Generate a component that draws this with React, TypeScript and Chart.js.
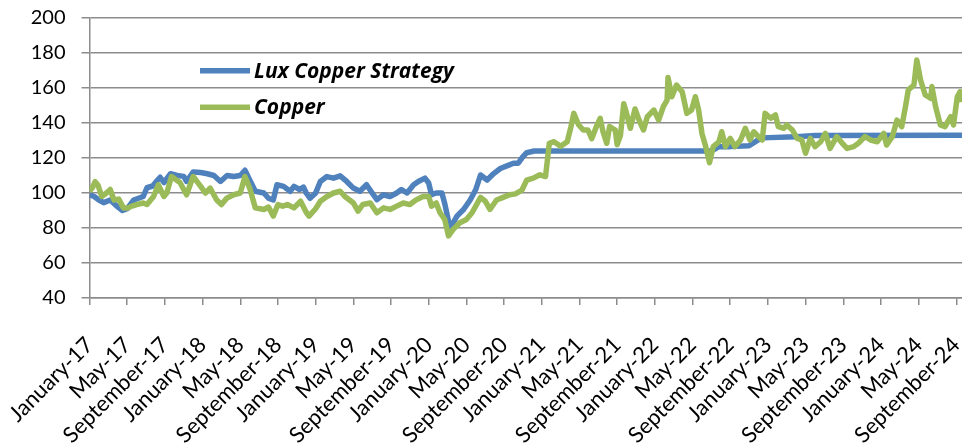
import React, { useEffect, useRef } from "react";
import { Chart, registerables } from "chart.js";

Chart.register(...registerables);

// Tick labels every 4 months, starting January 2017
const TICK_LABELS = [
  "January-17", "May-17", "September-17",
  "January-18", "May-18", "September-18",
  "January-19", "May-19", "September-19",
  "January-20", "May-20", "September-20",
  "January-21", "May-21", "September-21",
  "January-22", "May-22", "September-22",
  "January-23", "May-23", "September-23",
  "January-24", "May-24", "September-24",
];
const TICK_STEP_MONTHS = 4;
const X_MAX_MONTHS = 92.6;

const SERIES_NAMES = ["Lux Copper Strategy", "Copper"];

// x = months since January 2017
const LUX_X = [
  0, 0.5, 1, 1.5, 2.2, 2.8, 3.5, 4, 4.7, 5.7, 6.1, 6.7, 7.1, 7.5, 7.9, 8.6, 9.3, 10, 10.3, 11,
  11.8, 12.5, 13.2, 13.9, 14.6, 15.3, 16, 16.5, 17, 17.6, 18.5, 19, 19.5, 19.9, 20.6, 21.3, 21.7,
  22.3, 22.7, 23, 23.4, 24, 24.5, 25.2, 25.9, 26.6, 27.3, 28, 28.7, 29.4, 30, 30.5, 31.2, 31.9,
  32.6, 33.1, 33.7, 34.4, 34.9, 35.6, 36, 36.3, 36.8, 37.4, 37.7, 38.1, 38.3, 38.6, 39, 39.7,
  40.4, 41, 41.5, 42.2, 42.9, 43.6, 44.3, 45, 45.5, 46, 46.4, 47.2, 48.5, 66, 66.8, 68, 70,
  71.3, 75, 77, 92.6,
];
const LUX_Y = [
  99, 98, 96, 94.5, 96, 93, 90, 91, 96, 98, 103, 104, 106.6, 109, 106, 111, 110, 109.5, 106.6, 112,
  111.7, 111, 110, 106.6, 110, 109.4, 110, 113, 107.5, 101, 100, 97, 96, 104.7, 103.8, 101, 103.8,
  102, 103.4, 100, 97, 100, 106.6, 109.4, 108.5, 109.8, 106.6, 102.8, 101, 104.7, 100, 96.2, 99, 98,
  100, 102, 100, 104.7, 106.6, 108.5, 105.7, 99, 100, 100, 94, 84, 80.5, 83, 86.8, 90.6,
  96, 102, 110.3, 107.4, 111.1, 114, 115.5, 117, 117, 120.8, 123, 124, 124, 124, 126.5, 126.5, 127,
  131.5, 132.2, 132.8, 133,
];

const COPPER_X = [
  0, 0.3, 0.6, 0.9, 1.3, 1.8, 2.2, 2.6, 3.1, 3.6, 4.1, 4.5, 5, 5.7, 6.1, 6.8, 7.3, 7.9, 8.2, 8.7,
  9.6, 10.3, 11, 11.8, 12.3, 12.8, 13.5, 14, 14.6, 15.3, 16, 16.5, 17, 17.6, 18.1, 18.5, 19, 19.5,
  20, 20.5, 21, 21.7, 22.4, 23, 23.3, 24, 24.5, 25.2, 25.9, 26.6, 27.1, 27.6, 28, 28.5, 29, 29.8,
  30.5, 31.2, 31.9, 32.6, 33.3, 34, 34.7, 35.4, 36, 36.3, 36.8, 37.2, 37.7, 38.1, 38.6, 39.3, 40,
  40.6, 41.5, 42, 42.5, 43.2, 43.9, 44.6, 45.2, 45.9, 46.4, 47.1, 47.8, 48.4, 48.8, 49.3, 50, 50.7,
  51.1, 51.4, 51.9, 52.4, 52.9, 53.3, 53.8, 54.2, 54.5, 54.9, 55.2, 55.8, 56, 56.35, 56.7, 57, 57.4,
  57.9, 58.3, 58.8, 59.2, 59.9, 60.4, 60.9, 61.3, 61.4, 61.8, 62.3, 62.9, 63.4, 63.9, 64.3, 64.65,
  65, 65.4, 65.8, 66.2, 66.8, 67.1, 67.5, 68, 68.5, 69.1, 69.6, 70.1, 70.5, 71, 71.4, 71.7, 72.3,
  72.8, 73.1, 73.7, 74, 74.6, 75.1, 75.6, 76, 76.5, 77, 77.6, 78.1, 78.6, 79.3, 79.9, 80.4, 81.1,
  81.6, 82.3, 82.9, 83.6, 84.3, 84.6, 85.2, 85.7, 86.2, 86.6, 86.9, 87.5, 87.8, 88.2, 88.7, 89.3,
  89.4, 89.8, 90.3, 90.8, 91.4, 91.7, 92.1, 92.4, 92.6,
];
const COPPER_Y = [
  101, 103, 106.5, 104.5, 98, 100, 102, 96, 96.5, 91.5, 91.5, 92.5, 93.4, 94.3, 93.4, 98, 104.7, 98, 100, 109.4,
  106, 99, 109.4, 103.8, 100, 102.8, 96, 93.4, 97.2, 99, 100, 109.4, 102.8, 91.5, 91, 90.6, 92, 86.8,
  93.4, 92.5, 93.4, 91.5, 95.3, 89, 86.8, 91, 95.3, 98, 100, 101, 98, 96, 94.3, 89.6, 93.4, 94.3,
  88.7, 91.5, 90.6, 92.5, 94.3, 93.4, 96.2, 98, 98, 92.5, 94.3, 88.7, 84.9, 75.5, 79.2, 83, 84.9,
  88.7, 97.5, 95.3, 90.6, 96, 97.5, 99, 99.5, 101.7, 107.4, 108.5, 110.4, 109.4, 128.4, 129.3, 126.7, 129.3,
  137.9, 145.5, 139, 136, 136, 131, 138, 142.7, 135, 128.4, 138, 136, 127.6, 133, 151, 145.5, 137,
  148, 142, 136, 143.6, 147.4, 141.7, 149.3, 153.1, 166, 155, 161.7, 157.9, 145.5, 147.4, 155, 147.4,
  134, 126.5, 117.3, 126.5, 129.3, 135, 126.5, 131.2, 126.5, 130.3, 137, 130.3, 135, 132.2, 130.3, 145.5, 142.7,
  144.6, 137.9, 137, 138.9, 136, 131.2, 130.3, 122.7, 131.2, 126.5, 129.3, 134.1, 125.5, 132.2, 128.4, 125.5, 126.5,
  128.4, 132.2, 130.3, 129.3, 134.1, 127.4, 132.2, 141.7, 137.9, 149.3, 158.9, 161.7, 176, 164.6, 156, 154.1,
  160.8, 149.3, 138.9, 137.9, 143.6, 138.9, 155, 157.9, 152,
];

const BLUE = "#4F81BD";
const GREEN = "#9BBB59";
const GRID = "#8c8c8c";
const FONT = "Lato";
const LEGEND_FONT = "'Open Sans'";

const toPoints = (xs: number[], ys: number[]) => xs.map((x, i) => ({ x, y: ys[i] }));

const insideLegend = {
  id: "insideLegend",
  afterDatasetsDraw(chart: any) {
    const { ctx, chartArea } = chart;
    const items = [
      { label: SERIES_NAMES[0], color: BLUE },
      { label: SERIES_NAMES[1], color: GREEN },
    ];
    const x0 = chartArea.left + 110.5;
    const len = 50;
    const rows = [chartArea.top + 52.7, chartArea.top + 89.2];
    ctx.save();
    ctx.font = `italic bold 21px ${LEGEND_FONT}`;
    ctx.textBaseline = "alphabetic";
    ctx.textAlign = "left";
    items.forEach((it, i) => {
      ctx.strokeStyle = it.color;
      ctx.lineWidth = 5.5;
      ctx.lineCap = "butt";
      ctx.beginPath();
      ctx.moveTo(x0, rows[i]);
      ctx.lineTo(x0 + len, rows[i]);
      ctx.stroke();
      ctx.fillStyle = "#000";
      ctx.fillText(it.label, x0 + len + 4, rows[i] + 7.2);
    });
    ctx.restore();
  },
};

export default function App() {
  const ref = useRef<HTMLCanvasElement>(null);

  useEffect(() => {
    if (!ref.current) return;
    const chart = new Chart(ref.current, {
      type: "line",
      data: {
        datasets: [
          {
            label: SERIES_NAMES[1],
            data: toPoints(COPPER_X, COPPER_Y),
            borderColor: GREEN,
            backgroundColor: GREEN,
            borderWidth: 5.5,
            pointRadius: 0,
            tension: 0,
            borderJoinStyle: "round",
            order: 0,
          },
          {
            label: SERIES_NAMES[0],
            data: toPoints(LUX_X, LUX_Y),
            borderColor: BLUE,
            backgroundColor: BLUE,
            borderWidth: 5.5,
            pointRadius: 0,
            tension: 0,
            borderJoinStyle: "round",
            order: 1,
          },
        ],
      },
      options: {
        animation: false,
        responsive: false,
        layout: { padding: { top: 18, right: 0, left: 0, bottom: 0 } },
        plugins: { legend: { display: false }, tooltip: { enabled: false } },
        scales: {
          x: {
            type: "linear",
            min: 0,
            max: X_MAX_MONTHS,
            ticks: {
              stepSize: TICK_STEP_MONTHS,
              includeBounds: false,
              autoSkip: false,
              minRotation: 45,
              maxRotation: 45,
              padding: 27,
              color: "#000",
              font: { family: FONT, size: 22 },
              callback: (v: any) => TICK_LABELS[Math.round(Number(v) / TICK_STEP_MONTHS)] ?? "",
            },
            grid: { drawOnChartArea: false, drawTicks: true, tickLength: 7, color: GRID, lineWidth: 1.5 },
            border: { color: GRID, width: 1.5 },
            afterFit: (s: any) => {
              s.height = 145;
              s.paddingLeft = 0;
              s.paddingRight = 0;
            },
          },
          y: {
            min: 40,
            max: 200,
            ticks: {
              stepSize: 20,
              padding: 16,
              color: "#000",
              font: { family: FONT, size: 20 },
            },
            grid: { color: GRID, lineWidth: 1.5, tickLength: 8 },
            border: { color: GRID, width: 1.5 },
            afterFit: (s: any) => {
              s.width = 89.5;
              s.paddingTop = 0;
              s.paddingBottom = 0;
            },
          },
        },
      },
      plugins: [insideLegend],
    });
    return () => chart.destroy();
  }, []);

  return (
    <canvas
      ref={ref}
      width={962}
      height={443}
      style={{ position: "fixed", left: 0, top: 0, width: 962, height: 443 }}
    />
  );
}
